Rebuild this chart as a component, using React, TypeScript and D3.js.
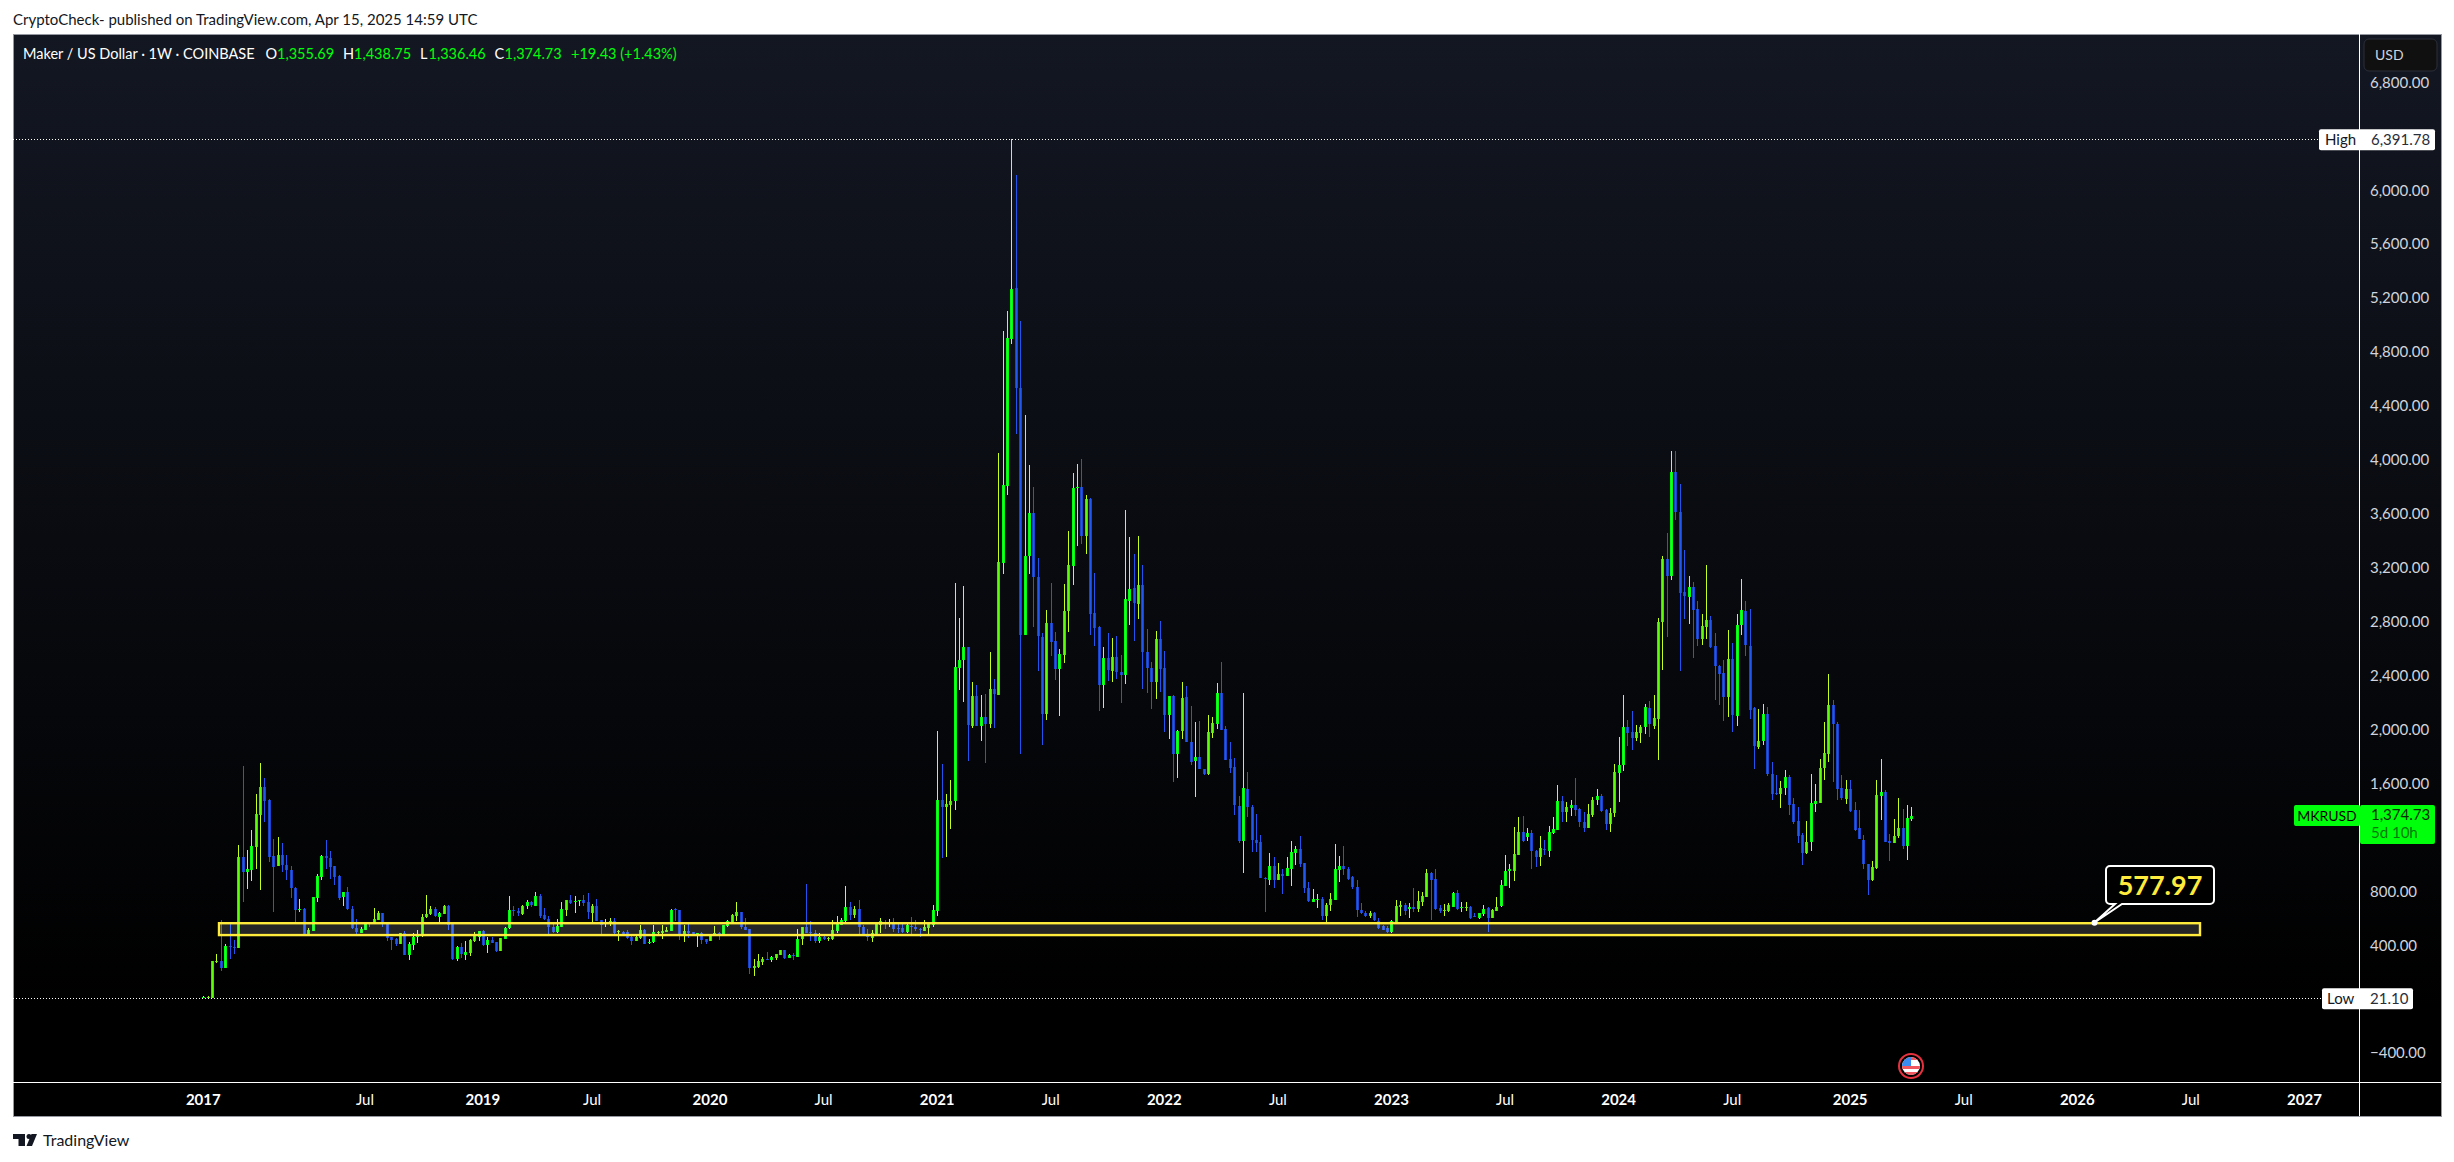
import React from 'react';
import * as d3 from 'd3';

// Weekly MKR/USD candles (first week 2017-10-16, last 2025-04-14)
const opens = [
  21,30,25,289,295,245,408,401,394,1066,
  952,972,1143,1380,1588,1491,1076,997,1081,1007,
  970,836,675,683,493,522,767,923,1073,1061,
  1002,928,767,806,680,540,505,527,579,572,
  601,651,572,475,460,426,505,344,416,470,
  490,619,641,680,626,648,705,569,312,399,
  342,359,445,475,517,416,453,436,371,463,
  537,675,668,646,700,732,707,779,636,606,
  547,507,552,675,750,735,742,750,732,656,
  705,602,570,570,594,513,515,510,473,446,
  466,528,434,434,505,505,513,523,683,676,
  483,522,515,498,503,458,441,490,503,485,
  555,587,631,659,552,533,246,253,290,313,
  305,320,342,377,320,340,327,458,547,513,
  505,446,476,461,461,520,565,594,696,639,
  683,547,498,468,498,567,589,572,587,540,
  540,513,557,547,535,520,542,565,668,1491,
  1439,1454,1479,2470,2529,2623,2042,2262,2042,2107,
  2055,2312,2272,3251,3822,4910,5286,4547,2715,3296,
  3617,3143,2703,2129,2804,2670,2463,2567,2893,3227,
  3805,3812,3449,3723,2878,2774,2344,2544,2448,2552,
  2440,2418,2967,3061,2945,3086,2586,2470,2366,2685,
  2470,2122,2262,1832,1998,2255,1924,1775,1808,1719,
  1682,1986,2055,2282,2015,1793,1733,1449,1187,1570,
  1437,1195,1177,915,898,1002,898,942,928,982,
  1096,1125,1022,836,737,750,757,631,713,750,
  972,1002,982,918,843,675,656,631,651,596,
  557,540,507,586,695,713,678,695,683,735,
  769,947,903,688,668,668,698,799,690,690,
  700,631,616,646,688,616,671,700,856,960,
  967,1083,1254,1219,1244,1115,1066,1128,1115,1244,
  1269,1484,1405,1434,1454,1424,1328,1286,1380,1486,
  1519,1421,1316,1396,1692,1752,2036,1996,1950,1988,
  2028,2171,2041,2093,2810,3279,3154,3923,3628,3031,
  2996,3071,2908,2685,2775,2830,2637,2489,2432,2254,
  2534,2113,2785,2890,2637,2171,1888,1930,2133,1687,
  1542,1537,1582,1662,1462,1334,1231,1098,1176,1464,
  1476,1727,1835,2196,2056,1579,1502,1577,1421,1281,
  1198,1018,897,985,1522,1554,1191,1176,1223,1281,
  1146,1355.69,
];
const highs = [
  35,40,297,349,601,423,581,453,1157,1743,
  1120,1269,1536,1766,1654,1496,1202,1214,1170,1081,
  999,844,757,690,542,772,942,1083,1195,1113,
  1002,933,809,846,705,609,547,586,586,690,
  668,651,572,475,465,505,517,436,502,527,
  646,787,705,695,660,710,710,569,408,428,
  445,458,510,517,525,478,478,438,465,552,
  779,705,688,712,750,740,809,794,690,631,
  577,609,735,750,787,779,750,787,801,720,
  755,602,609,614,614,528,518,528,495,483,
  567,535,461,567,523,567,547,683,691,676,
  567,572,515,505,513,463,495,557,513,567,
  602,646,735,661,617,533,312,350,330,364,
  335,350,377,377,350,355,535,550,869,594,
  528,505,485,476,602,631,617,854,735,705,
  750,565,535,528,572,617,602,609,617,572,
  572,587,624,602,542,602,572,713,2003,1758,
  1536,1640,3100,2841,3078,2623,2366,2344,2270,2277,
  2589,2389,4065,4970,5118,6391.78,6126,5043,4346,3975,
  3812,3286,2727,2898,3100,2737,2611,3093,3486,3916,
  3983,4020,3753,3731,3175,2782,2626,2730,2693,2707,
  2567,3642,3442,3316,3449,3234,2759,2515,2745,2819,
  2596,2262,2270,2010,2366,2337,2188,2070,2077,1724,
  2122,2104,2359,2512,2040,1921,1800,1521,2282,1696,
  1454,1387,1229,918,1096,1071,1021,979,1066,1187,
  1150,1224,1026,883,831,794,774,725,799,1165,
  1076,1150,997,928,898,725,670,668,660,614,
  564,557,601,750,742,730,730,838,819,811,
  979,960,979,712,720,725,809,824,735,737,
  705,651,656,712,695,680,774,898,1083,1017,
  1293,1363,1373,1281,1269,1120,1224,1195,1298,1363,
  1602,1521,1479,1491,1652,1429,1400,1461,1516,1572,
  1537,1426,1436,1757,1958,2269,2083,2151,2048,2048,
  2204,2226,2269,2840,3299,3472,4079,4079,3836,3344,
  3151,3109,2968,2870,3234,2855,2730,2492,2530,2753,
  2655,2870,3129,2968,2905,2179,2166,2204,2179,1777,
  1677,1632,1717,1677,1507,1439,1246,1334,1685,1609,
  1795,2073,2424,2234,2073,1677,1640,1640,1477,1414,
  1231,1020,1038,1640,1795,1564,1238,1351,1507,1424,
  1454,1438.75,
];
const lows = [
  21.1,28,21.1,280,226,245,312,349,394,735,
  831,893,979,824,1328,1031,661,997,952,893,
  764,577,661,485,490,522,735,898,979,908,
  861,745,705,678,537,490,505,527,549,572,
  601,544,448,379,408,423,344,300,379,433,
  478,619,641,619,577,648,527,300,300,317,
  305,334,433,445,403,359,433,364,371,463,
  537,633,626,641,685,695,707,619,601,490,
  502,507,552,633,720,656,705,707,609,586,
  594,498,550,557,498,446,490,461,416,446,
  461,426,424,434,495,461,513,520,594,453,
  439,468,490,404,424,424,441,490,453,485,
  550,577,594,532,530,201,186,246,268,305,
  290,305,342,313,320,305,327,416,505,446,
  431,431,453,446,453,505,565,587,602,617,
  490,490,446,439,498,505,535,550,513,505,
  505,505,490,520,476,520,490,550,631,1064,
  1071,1276,1417,2307,2218,1780,2025,2042,1929,1766,
  2025,2025,2272,3167,3753,4873,4205,1832,2715,3167,
  2777,2450,1899,2085,2559,2381,2114,2507,2737,3086,
  3375,3390,3316,2715,2633,2151,2173,2374,2366,2389,
  2211,2351,2789,2670,2834,2314,2285,2166,2240,2292,
  1996,1944,1625,1654,1944,1924,1751,1516,1719,1680,
  1677,1948,2018,2005,1788,1691,1380,1175,945,1360,
  1108,1108,908,656,861,841,898,794,928,853,
  1009,997,804,735,737,688,606,586,663,750,
  883,935,898,831,626,643,626,614,596,535,
  527,507,507,586,631,638,619,663,661,705,
  769,606,675,651,631,661,698,675,661,671,
  609,624,609,631,512,616,671,695,853,841,
  893,1083,1182,1182,982,997,1002,1083,1066,1236,
  1269,1330,1330,1373,1368,1288,1249,1286,1368,1456,
  1401,1269,1256,1364,1477,1707,1893,1863,1928,1913,
  1980,1958,2018,1787,2454,2700,3124,3567,2447,2833,
  2795,2545,2632,2640,2685,2617,2234,2196,2076,2106,
  1995,2041,2715,2560,2091,1720,1870,1898,1670,1492,
  1532,1434,1529,1381,1314,1173,1010,1091,1113,1401,
  1469,1640,1772,1625,1492,1492,1462,1404,1264,1196,
  980,787,890,980,1344,1181,1038,1176,1208,1131,
  1045,1336.46,
];
const closes = [
  30,34,297,297,245,408,401,394,1066,952,
  977,1150,1387,1588,1486,1071,997,1081,1004,970,
  834,670,683,493,525,772,928,1076,1056,997,
  923,767,806,678,537,507,532,577,572,606,
  651,567,470,455,426,505,344,423,475,495,
  621,643,680,626,653,705,564,312,399,344,
  364,453,483,517,416,453,433,369,465,542,
  673,668,651,705,732,707,779,631,604,547,
  507,554,683,747,730,742,750,730,656,705,
  594,565,577,594,505,520,495,468,446,473,
  528,426,441,510,513,520,530,676,676,483,
  520,505,490,505,453,439,495,505,493,562,
  592,636,659,547,530,246,261,298,310,305,
  330,347,377,320,342,332,458,547,505,505,
  446,476,458,468,528,572,602,696,639,683,
  547,490,473,503,572,594,577,587,535,535,
  513,565,550,533,528,550,572,676,1491,1442,
  1462,1484,2475,2529,2623,2042,2262,2042,2107,2055,
  2312,2272,3256,3827,4917,5281,4542,2715,3301,3617,
  3143,2703,2134,2804,2665,2463,2574,2890,3232,3803,
  3812,3449,3723,2871,2767,2344,2544,2455,2552,2438,
  2418,2982,3056,2952,3086,2586,2465,2366,2685,2465,
  2122,2262,1832,2003,2245,1924,1775,1808,1719,1684,
  1993,2060,2282,2010,1788,1728,1449,1187,1578,1437,
  1190,1175,908,905,1002,898,942,928,987,1106,
  1125,1017,834,737,757,757,631,713,757,979,
  1002,977,910,841,670,651,631,651,596,547,
  527,507,591,705,713,668,695,680,740,779,
  947,898,683,668,675,713,799,683,698,698,
  616,624,651,683,616,675,700,858,965,977,
  1091,1254,1185,1249,1108,1071,1133,1120,1254,1274,
  1484,1405,1442,1454,1417,1328,1286,1387,1491,1519,
  1411,1316,1399,1697,1755,2033,1991,1950,1993,2031,
  2179,2053,2098,2815,3279,3156,3923,3630,3028,3003,
  3071,2903,2687,2780,2830,2632,2487,2427,2251,2534,
  2116,2788,2898,2635,2161,1888,1933,2133,1685,1539,
  1534,1584,1660,1457,1326,1226,1098,1181,1467,1484,
  1732,1840,2196,2053,1577,1502,1577,1416,1276,1196,
  1018,900,993,1527,1554,1186,1176,1228,1281,1146,
  1356,1374.73,
];

const priceTicks = [6800, 6000, 5600, 5200, 4800, 4400, 4000, 3600, 3200, 2800, 2400, 2000, 1600, 800, 400, -400];
const timeTicks: [string, string, boolean][] = [
  ['2017-10-16', '2017', true], ['2018-07-02', 'Jul', false], ['2019-01-07', '2019', true],
  ['2019-07-01', 'Jul', false], ['2020-01-06', '2020', true], ['2020-07-06', 'Jul', false],
  ['2021-01-04', '2021', true], ['2021-07-05', 'Jul', false], ['2022-01-03', '2022', true],
  ['2022-07-04', 'Jul', false], ['2023-01-02', '2023', true], ['2023-07-03', 'Jul', false],
  ['2024-01-01', '2024', true], ['2024-07-01', 'Jul', false], ['2025-01-06', '2025', true],
  ['2025-07-07', 'Jul', false], ['2026-01-05', '2026', true], ['2026-07-06', 'Jul', false],
  ['2027-01-04', '2027', true],
];
const highValue = 6391.78;
const lowValue = 21.1;
const zoneTop = 577.97;
const zoneBottom = 490;
const lastClose = 1374.73;

const FONT = 'Lato, "Open Sans", sans-serif';
const UP = '#00ff0a';
const UP_CORE = '#5cff08';
const UP_WICK = '#c8ff1a';
const DOWN = '#1a44cc';
const DOWN_CORE = '#2058f0';
const DOWN_WICK = '#2255f0';
const YELLOW = '#ffeb3b';

const W = 2454;
const H = 1162;
const left = 13;
const top = 34;
const right = 2441;
const bottom = 1116;
const axisX = 2359;
const axisY = 1082;

const firstWeek = new Date(Date.UTC(2017, 9, 16));
const lastWeek = new Date(Date.UTC(2025, 3, 14));
const x = d3.scaleUtc().domain([firstWeek, lastWeek]).range([203.3, 1911.3]);
const y = d3.scaleLinear().domain([lowValue, highValue]).range([998.3, 139.3]);
const weeks = opens.map((_, i) => d3.utcMonday.offset(firstWeek, i));
const fmt = d3.format(',.2f');

const App: React.FC = () => {
  const zoneY0 = y(zoneTop);
  const zoneY1 = y(zoneBottom);

  return (
    <svg width={W} height={H} style={{ position: 'absolute', left: 0, top: 0, background: '#fff' }} fontFamily={FONT}>
      <defs>
        <linearGradient id="bg" gradientUnits="userSpaceOnUse" x1="0" y1={top} x2="0" y2={bottom}>
          <stop offset="0" stopColor="#131722" />
          <stop offset="0.9" stopColor="#000000" />
        </linearGradient>
        <clipPath id="flag"><circle cx={1911} cy={1066} r={9} /></clipPath>
      </defs>

      <text x={13} y={25} fontSize={15} fill="#131722">CryptoCheck- published on TradingView.com, Apr 15, 2025 14:59 UTC</text>

      {/* frame */}
      <rect x={left + 0.5} y={top + 0.5} width={right - left} height={bottom - top} fill="url(#bg)" stroke="#9598a1" />

      {/* high / low lines */}
      <line x1={left} x2={2319} y1={Math.round(y(highValue)) + 0.5} y2={Math.round(y(highValue)) + 0.5} stroke="#fff" strokeDasharray="1 2" />
      <line x1={left} x2={2322} y1={Math.round(y(lowValue)) + 0.5} y2={Math.round(y(lowValue)) + 0.5} stroke="#fff" strokeDasharray="1 2" />

      {/* candles */}
      <g shapeRendering="crispEdges">
        {weeks.map((d, i) => {
          const up = closes[i] >= opens[i];
          const cx = Math.round(x(d));
          const bodyTop = Math.round(y(Math.max(opens[i], closes[i])));
          const bodyH = Math.max(1, Math.round(Math.abs(y(opens[i]) - y(closes[i]))));
          return (
            <g key={i}>
              <rect x={cx} width={1} y={Math.round(y(highs[i]))} height={Math.max(1, Math.round(y(lows[i]) - y(highs[i])))} fill={up ? UP_WICK : DOWN_WICK} />
              <rect x={cx - 1} width={3} y={bodyTop} height={bodyH} fill={up ? UP : DOWN} />
              <rect x={cx} width={1} y={bodyTop} height={bodyH} fill={up ? UP_CORE : DOWN_CORE} />
            </g>
          );
        })}
      </g>

      {/* support zone */}
      <rect x={219} y={zoneY0} width={2200 - 219} height={zoneY1 - zoneY0} fill="rgba(255,255,255,0.14)" stroke={YELLOW} strokeWidth={2.4} />
      <path
        d="M2110,866 H2210 a4,4 0 0 1 4,4 V900 a4,4 0 0 1 -4,4 H2122 L2094.5,922.5 L2115,904 H2110 a4,4 0 0 1 -4,-4 V870 a4,4 0 0 1 4,-4 Z"
        fill="#000" stroke="#fff" strokeWidth={2}
      />
      <circle cx={2094.5} cy={922.7} r={3} fill="#fff" />
      <text x={2160} y={885} dy="0.36em" textAnchor="middle" fontSize={27} fontWeight={700} fill={YELLOW}>577.97</text>

      {/* axes */}
      <line x1={axisX + 0.5} x2={axisX + 0.5} y1={top} y2={bottom} stroke="#fff" />
      <line x1={left} x2={right} y1={axisY + 0.5} y2={axisY + 0.5} stroke="#fff" />

      {priceTicks.map(t => (
        <text key={t} x={2370} y={y(t) - 2} dy="0.36em" fontSize={15} fill="#d1d4dc">
          {(t < 0 ? '\u2212' : '') + fmt(Math.abs(t))}
        </text>
      ))}
      {timeTicks.map(([d, label, bold]) => (
        <text key={d} x={x(new Date(d + 'T00:00:00Z'))} y={1100} dy="0.36em" textAnchor="middle" fontSize={15} fontWeight={bold ? 700 : 400} fill="#fff">
          {label}
        </text>
      ))}

      {/* USD button */}
      <rect x={2364} y={39} width={73} height={32} rx={5} fill="#101010" stroke="#2a2e39" />
      <text x={2375} y={55} dy="0.36em" fontSize={14} fill="#d1d4dc">USD</text>

      {/* high / low labels */}
      <rect x={2319} y={y(highValue) - 10} width={116} height={21} rx={2} fill="#fff" />
      <text x={2325} y={y(highValue)} dy="0.36em" fontSize={15} fill="#131722">High</text>
      <text x={2371} y={y(highValue)} dy="0.36em" fontSize={15} fill="#2a2e39">{fmt(highValue)}</text>
      <rect x={2322} y={y(lowValue) - 10} width={91} height={21} rx={2} fill="#fff" />
      <text x={2327} y={y(lowValue)} dy="0.36em" fontSize={15} fill="#131722">Low</text>
      <text x={2370} y={y(lowValue)} dy="0.36em" fontSize={15} fill="#2a2e39">{fmt(lowValue)}</text>

      {/* last price label */}
      <rect x={2294} y={805} width={66} height={21} rx={2} fill={UP} />
      <text x={2327} y={815.5} dy="0.36em" textAnchor="middle" fontSize={14} fill="#000">MKRUSD</text>
      <rect x={2360} y={805} width={75} height={39} rx={2} fill={UP} />
      <text x={2371} y={815} dy="0.36em" fontSize={15} fill="#0a2a0a">{fmt(lastClose)}</text>
      <text x={2371} y={833} dy="0.36em" fontSize={15} fill="#047a0c">5d 10h</text>

      {/* legend */}
      <g fontSize={14.5}>
        <text x={23} y={54} dy="0.36em" fill="#fff">Maker / US Dollar · 1W · COINBASE</text>
        <text x={265.5} y={54} dy="0.36em" fill="#fff">O</text>
        <text x={277} y={54} dy="0.36em" fill={UP}>1,355.69</text>
        <text x={343} y={54} dy="0.36em" fill="#fff">H</text>
        <text x={354} y={54} dy="0.36em" fill={UP}>1,438.75</text>
        <text x={420} y={54} dy="0.36em" fill="#fff">L</text>
        <text x={428.5} y={54} dy="0.36em" fill={UP}>1,336.46</text>
        <text x={494.5} y={54} dy="0.36em" fill="#fff">C</text>
        <text x={504.5} y={54} dy="0.36em" fill={UP}>1,374.73</text>
        <text x={571} y={54} dy="0.36em" fill={UP}>+19.43 (+1.43%)</text>
      </g>

      {/* economic event badge */}
      <circle cx={1911} cy={1066} r={12} fill="#000" stroke="#e8313f" strokeWidth={2} />
      <g clipPath="url(#flag)" shapeRendering="crispEdges">
        <rect x={1902} y={1057} width={18} height={18} fill="#fff" />
        <rect x={1902} y={1066} width={18} height={3} fill="#f0575f" />
        <rect x={1902} y={1072} width={18} height={3} fill="#f0575f" />
        <rect x={1902} y={1057} width={18} height={3} fill="#f0575f" />
        <rect x={1902} y={1057} width={9} height={9} fill="#3b8cf0" />
      </g>

      {/* TradingView brand */}
      <g transform="translate(13,1134)" fill="#131722">
        <rect x={0} y={0} width={12} height={5} />
        <rect x={5.5} y={0} width={6.5} height={12} />
        <circle cx={16} cy={2.5} r={2.5} />
        <polygon points="24,0 19,12 13.5,12 18.5,0" />
      </g>
      <text x={43} y={1140} dy="0.36em" fontSize={16} fill="#131722">TradingView</text>
    </svg>
  );
};

export default App;
